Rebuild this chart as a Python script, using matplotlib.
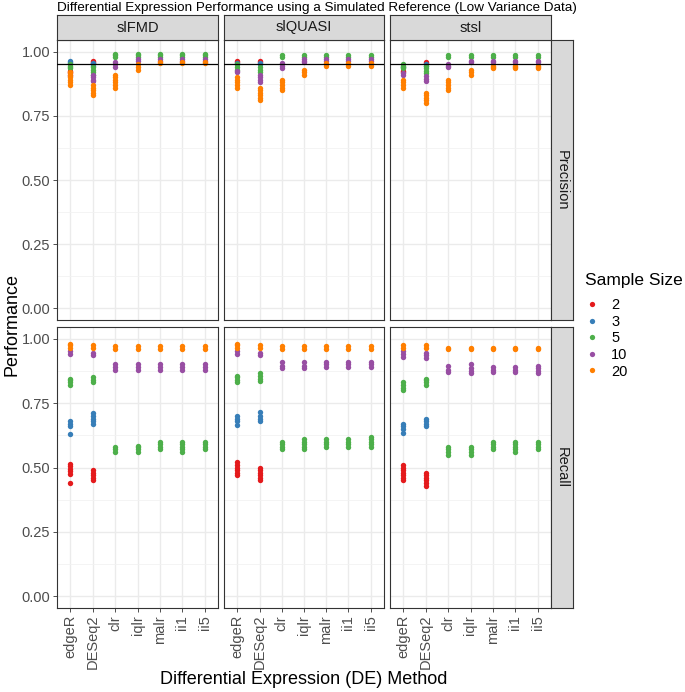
import matplotlib
matplotlib.use('Agg')
import matplotlib.pyplot as plt
from matplotlib.lines import Line2D
import numpy as np

plt.rcParams['font.family'] = ['Liberation Sans', 'DejaVu Sans']

# categories
methods = ['edgeR', 'DESeq2', 'clr', 'iqlr', 'malr', 'ii1', 'ii5']
sizes = [2, 3, 5, 10, 20]
facets = ['slFMD', 'slQUASI', 'stsl']
metrics = ['Precision', 'Recall']
colors = {2: '#E41A1C', 3: '#377EB8', 5: '#4DAF4A', 10: '#984EA3', 20: '#FF7F00'}

# values per sample size, one list per method
prec_slfmd = {
    2: [[0.915, 0.92, 0.925], [0.955, 0.96, 0.965], [], [], [], [], []],
    3: [[0.955, 0.96, 0.965], [0.945, 0.95, 0.955], [], [], [], [], []],
    5: [[0.935, 0.94, 0.945, 0.95], [0.91, 0.92, 0.93, 0.94], [0.98, 0.985, 0.99],
        [0.98, 0.985, 0.99], [0.98, 0.985, 0.99], [0.98, 0.985, 0.99], [0.98, 0.985, 0.99]],
    10: [[0.905, 0.91], [0.885, 0.89, 0.90, 0.91], [0.94, 0.95, 0.96],
         [0.965, 0.97], [0.965, 0.97], [0.965, 0.97], [0.965, 0.97]],
    20: [[0.87, 0.88, 0.89, 0.90, 0.91, 0.92], [0.83, 0.84, 0.85, 0.86, 0.87],
         [0.86, 0.87, 0.88, 0.89, 0.90, 0.91], [0.93, 0.94, 0.95],
         [0.955, 0.96], [0.955, 0.96], [0.955, 0.96]],
}
prec_slquasi = {
    2: [[0.96, 0.965], [0.96, 0.965], [], [], [], [], []],
    3: [[0.95, 0.955], [0.95, 0.955], [], [], [], [], []],
    5: [[0.93, 0.94, 0.95], [0.92, 0.93, 0.94], [0.98, 0.985],
        [0.98, 0.985], [0.98, 0.985], [0.98, 0.985], [0.98, 0.985]],
    10: [[0.92, 0.925], [0.88, 0.89, 0.90, 0.91], [0.935, 0.945, 0.955],
         [0.96, 0.965, 0.97], [0.965, 0.97], [0.965, 0.97], [0.965, 0.97]],
    20: [[0.86, 0.87, 0.88, 0.89, 0.90], [0.81, 0.82, 0.83, 0.84, 0.85, 0.86],
         [0.85, 0.86, 0.87, 0.88, 0.89], [0.91, 0.92, 0.93],
         [0.945, 0.95, 0.955], [0.945, 0.95, 0.955], [0.945, 0.95, 0.955]],
}
prec_stsl = {
    2: [[0.92, 0.925], [0.955, 0.96], [], [], [], [], []],
    3: [[0.94], [0.945, 0.95], [], [], [], [], []],
    5: [[0.935, 0.94, 0.945, 0.95], [0.915, 0.925, 0.935, 0.945], [0.98, 0.985],
        [0.98, 0.985], [0.98, 0.985], [0.98, 0.985], [0.98, 0.985]],
    10: [[0.91, 0.915], [0.885, 0.895, 0.905], [0.94, 0.945, 0.95],
         [0.96, 0.965], [0.96, 0.965], [0.96, 0.965], [0.96, 0.965]],
    20: [[0.86, 0.87, 0.88, 0.89], [0.80, 0.81, 0.82, 0.83, 0.84],
         [0.85, 0.86, 0.87, 0.88, 0.89], [0.91, 0.92, 0.93],
         [0.935, 0.94, 0.945], [0.935, 0.94, 0.945], [0.935, 0.94, 0.945]],
}
rec_slfmd = {
    2: [[0.44, 0.475, 0.485, 0.495, 0.505, 0.515], [0.45, 0.46, 0.47, 0.48, 0.49], [], [], [], [], []],
    3: [[0.63, 0.66, 0.67, 0.68], [0.67, 0.68, 0.69, 0.70, 0.71], [], [], [], [], []],
    5: [[0.82, 0.83, 0.84, 0.845], [0.83, 0.84, 0.85], [0.56, 0.57, 0.58],
        [0.56, 0.57, 0.58, 0.585], [0.57, 0.58, 0.59, 0.60], [0.56, 0.57, 0.58, 0.59, 0.60],
        [0.57, 0.58, 0.59, 0.60]],
    10: [[0.94, 0.95], [0.935, 0.945], [0.88, 0.89, 0.90], [0.88, 0.89, 0.90],
         [0.88, 0.89, 0.90], [0.88, 0.89, 0.90], [0.88, 0.89, 0.90]],
    20: [[0.965, 0.975, 0.98], [0.965, 0.975], [0.96, 0.97], [0.96, 0.97],
         [0.96, 0.97], [0.96, 0.97], [0.96, 0.97]],
}
rec_slquasi = {
    2: [[0.47, 0.48, 0.49, 0.50, 0.51, 0.52], [0.45, 0.46, 0.47, 0.48, 0.49, 0.50], [], [], [], [], []],
    3: [[0.665, 0.68, 0.69, 0.70], [0.68, 0.69, 0.70, 0.715], [], [], [], [], []],
    5: [[0.83, 0.84, 0.85, 0.855], [0.835, 0.845, 0.855, 0.865], [0.57, 0.58, 0.59, 0.60],
        [0.57, 0.58, 0.59, 0.60, 0.61], [0.58, 0.59, 0.60, 0.61], [0.58, 0.59, 0.60, 0.61],
        [0.58, 0.59, 0.60, 0.61, 0.62]],
    10: [[0.94, 0.95], [0.935, 0.945], [0.885, 0.895, 0.91], [0.885, 0.895, 0.91],
         [0.89, 0.90, 0.91], [0.89, 0.90, 0.91], [0.89, 0.90, 0.91]],
    20: [[0.965, 0.975, 0.98], [0.965, 0.975], [0.96, 0.97], [0.96, 0.97],
         [0.96, 0.97], [0.96, 0.97], [0.96, 0.97]],
}
rec_stsl = {
    2: [[0.45, 0.46, 0.47, 0.48, 0.49, 0.50, 0.51], [0.43, 0.44, 0.45, 0.46, 0.47, 0.48], [], [], [], [], []],
    3: [[0.635, 0.65, 0.66, 0.67], [0.66, 0.67, 0.68, 0.69], [], [], [], [], []],
    5: [[0.80, 0.81, 0.82, 0.83], [0.82, 0.83, 0.84, 0.845], [0.55, 0.56, 0.57, 0.58],
        [0.55, 0.56, 0.57, 0.58], [0.57, 0.58, 0.59, 0.60], [0.56, 0.57, 0.58, 0.59, 0.60],
        [0.57, 0.58, 0.59, 0.60]],
    10: [[0.93, 0.94, 0.95], [0.925, 0.935, 0.945], [0.87, 0.88, 0.895],
         [0.865, 0.875, 0.885, 0.90], [0.87, 0.88, 0.89], [0.87, 0.88, 0.89],
         [0.865, 0.875, 0.885, 0.895]],
    20: [[0.965, 0.975], [0.965, 0.975], [0.96, 0.965], [0.96, 0.965],
         [0.96, 0.965], [0.96, 0.965], [0.96, 0.965]],
}
panel_data = {
    ('Precision', 'slFMD'): prec_slfmd, ('Precision', 'slQUASI'): prec_slquasi,
    ('Precision', 'stsl'): prec_stsl, ('Recall', 'slFMD'): rec_slfmd,
    ('Recall', 'slQUASI'): rec_slquasi, ('Recall', 'stsl'): rec_stsl,
}
yticks = [0.0, 0.25, 0.5, 0.75, 1.0]
ytick_labels = ['0.00', '0.25', '0.50', '0.75', '1.00']
ref_line = 0.95

W, H = 685, 692
fig = plt.figure(figsize=(W / 100, H / 100), dpi=100)


def px(x0, y0, x1, y1):
    return [x0 / W, 1 - y1 / H, (x1 - x0) / W, (y1 - y0) / H]


col_x = [(57, 218), (224, 384), (390, 551)]
row_y = [(40, 320), (327, 608)]
border = '#333333'

for r, metric in enumerate(metrics):
    for c, facet in enumerate(facets):
        ax = fig.add_axes(px(col_x[c][0], row_y[r][0], col_x[c][1], row_y[r][1]))
        d = panel_data[(metric, facet)]
        for s in sizes:
            for i, vals in enumerate(d[s]):
                ax.scatter([i + 1] * len(vals), vals, s=15, color=colors[s],
                           linewidths=0, zorder=3)
        if metric == 'Precision':
            ax.axhline(ref_line, color='black', lw=0.9, zorder=4)
        ax.set_xlim(0.4, 7.6)
        ax.set_ylim(-0.045, 1.045)
        ax.set_yticks(yticks)
        ax.set_yticks([0.125, 0.375, 0.625, 0.875], minor=True)
        ax.set_xticks(range(1, 8))
        ax.grid(True, which='major', color='#EBEBEB', lw=1.0, zorder=0)
        ax.grid(True, which='minor', axis='y', color='#F2F2F2', lw=0.6, zorder=0)
        ax.tick_params(which='minor', length=0)
        ax.tick_params(which='major', length=3, width=0.6, color=border,
                       labelcolor='#4D4D4D', labelsize=10.5, pad=2)
        for sp in ax.spines.values():
            sp.set_color(border)
            sp.set_linewidth(0.8)
        if c == 0:
            ax.set_yticklabels(ytick_labels)
        else:
            ax.tick_params(axis='y', length=0, labelleft=False)
        if r == 1:
            ax.set_xticklabels(methods, rotation=90, ha='center', va='top')
        else:
            ax.tick_params(axis='x', length=0, labelbottom=False)
        ax.set_axisbelow(True)

        # strips
        if r == 0:
            st = fig.add_axes(px(col_x[c][0], 15, col_x[c][1], 40))
            st.set_facecolor('#D9D9D9')
            st.set_xticks([])
            st.set_yticks([])
            for sp in st.spines.values():
                sp.set_color(border)
                sp.set_linewidth(0.8)
            st.text(0.5, 0.5, facet, ha='center', va='center', fontsize=10.5,
                    color='#1A1A1A', transform=st.transAxes)
        if c == 2:
            st = fig.add_axes(px(551, row_y[r][0], 573, row_y[r][1]))
            st.set_facecolor('#D9D9D9')
            st.set_xticks([])
            st.set_yticks([])
            for sp in st.spines.values():
                sp.set_color(border)
                sp.set_linewidth(0.8)
            st.text(0.5, 0.5, metric, ha='center', va='center', fontsize=10.5,
                    rotation=-90, color='#1A1A1A', transform=st.transAxes)

fig.text(57 / W, 1 - 8 / H, 'Differential Expression Performance using a Simulated Reference (Low Variance Data)',
         ha='left', va='center', fontsize=9.7, color='black')
fig.text(12 / W, 1 - 324 / H, 'Performance', rotation=90, ha='center', va='center', fontsize=13)
fig.text(304 / W, 1 - 680 / H, 'Differential Expression (DE) Method', ha='center', va='center', fontsize=13)

# legend
fig.text(585 / W, 1 - 280 / H, 'Sample Size', ha='left', va='center', fontsize=12.5)
handles = [Line2D([], [], marker='o', linestyle='', markersize=3.8, markerfacecolor=colors[s],
                  markeredgewidth=0) for s in sizes]
leg = fig.legend(handles, [str(s) for s in sizes], loc='upper left',
                 bbox_to_anchor=(585 / W, 1 - 298 / H), frameon=False, fontsize=10.5,
                 handlelength=1.0, handletextpad=0.8, labelspacing=0.18,
                 borderaxespad=0, borderpad=0)

fig.savefig('out.png', dpi=100)
